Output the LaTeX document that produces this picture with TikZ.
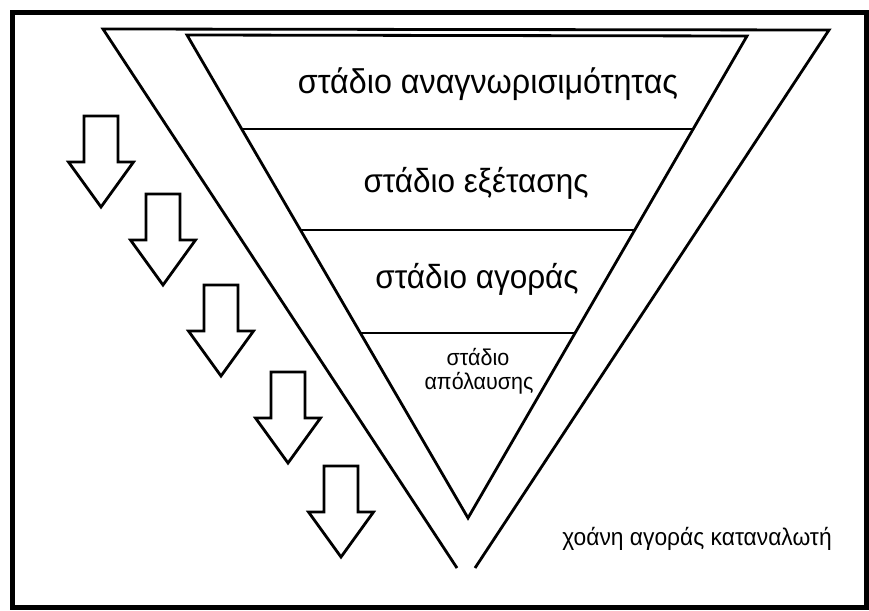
\documentclass[tikz,border=0pt]{standalone}
\usepackage{fontspec}
\setmainfont{Liberation Sans}
\usetikzlibrary{calc}

\begin{document}
\begin{tikzpicture}[x=1pt,y=-1pt,
  funnel/.style={line width=2.8pt, line join=miter},
  stagelabel/.style={anchor=base, inner sep=0pt, yscale=1.06, transform shape,
    font=\fontsize{31.5}{36}\selectfont},
  smalllabel/.style={anchor=base, inner sep=0pt, yscale=1.06, transform shape,
    font=\fontsize{21.5}{26}\selectfont},
  downarrow/.pic={\draw[line width=2.8pt, line join=miter]
    (-17,0) -- (17,0) -- (17,46) -- (32.5,46) -- (0,91) -- (-32.5,46) -- (-17,46) -- cycle;}
]
  \useasboundingbox (0,0) rectangle (869,610);
  % frame
  \draw[line width=5pt] (12.5,12.5) rectangle (866.5,607.5);

  % outer funnel, open at the tip
  \draw[funnel] (457,568) -- (103,29) -- (829,30) -- (475,568);
  % inner funnel
  \draw[funnel] (187,35) -- (747,36) -- (468,518) -- cycle;
  \draw[funnel] (241.7,129) -- (693.2,129);
  \draw[funnel] (300.4,230) -- (634.7,230);
  \draw[funnel] (360.4,333) -- (575.1,333);

  \node[stagelabel, font=\fontsize{32.3}{36}\selectfont] (aware) at (488,93) {στάδιο αναγνωρισιμότητας};
  \node[stagelabel] (consider) at (476,192) {στάδιο εξέτασης};
  \node[stagelabel] (buy) at (477,288) {στάδιο αγοράς};
  \node[smalllabel] (enjoytop) at (478,365) {στάδιο};
  \node[smalllabel] (enjoybot) at (479,389) {απόλαυσης};
  \node[smalllabel, font=\fontsize{22.8}{26}\selectfont] (funnelname) at (697,545) {χοάνη αγοράς καταναλωτή};

  % arrows down the left side
  \foreach \x/\y in {101/116, 163/194, 221/285, 288/372, 341/466}
    \pic at (\x,\y) {downarrow};
\end{tikzpicture}
\end{document}
